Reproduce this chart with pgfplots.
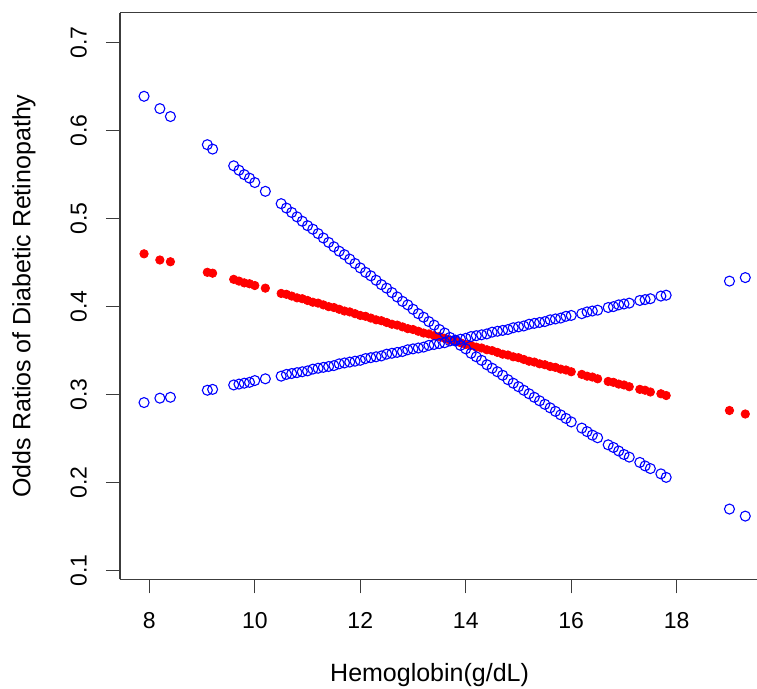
\documentclass[border=0pt]{standalone}
\usepackage{pgfplots}
\pgfplotsset{compat=1.18}
\usepackage{pgfplotstable}
\usepackage{fontspec}
\setmainfont{Liberation Sans}
\definecolor{rblue}{RGB}{0,0,255}
\definecolor{rred}{RGB}{255,0,0}
\definecolor{axgray}{RGB}{60,60,60}

% x = hemoglobin, or = odds ratio estimate, lo / hi = lower / upper curves
\pgfplotstableread{
x     or     lo     hi
7.9   0.460  0.291  0.639
8.2   0.453  0.296  0.625
8.4   0.451  0.297  0.616
9.1   0.439  0.305  0.584
9.2   0.438  0.306  0.579
9.6   0.431  0.311  0.560
9.7   0.429  0.312  0.555
9.8   0.427  0.313  0.550
9.9   0.426  0.314  0.546
10.0  0.424  0.316  0.541
10.2  0.421  0.318  0.531
10.5  0.415  0.321  0.517
10.6  0.414  0.323  0.512
10.7  0.412  0.324  0.507
10.8  0.410  0.325  0.502
10.9  0.409  0.326  0.497
11.0  0.407  0.327  0.492
11.1  0.405  0.329  0.488
11.2  0.404  0.330  0.483
11.3  0.402  0.331  0.478
11.4  0.400  0.332  0.473
11.5  0.399  0.333  0.468
11.6  0.397  0.335  0.463
11.7  0.395  0.336  0.459
11.8  0.394  0.337  0.454
11.9  0.392  0.338  0.449
12.0  0.390  0.339  0.444
12.1  0.389  0.341  0.439
12.2  0.387  0.342  0.435
12.3  0.385  0.343  0.430
12.4  0.384  0.344  0.425
12.5  0.382  0.346  0.421
12.6  0.380  0.347  0.416
12.7  0.379  0.348  0.411
12.8  0.377  0.349  0.406
12.9  0.375  0.351  0.402
13.0  0.374  0.352  0.397
13.1  0.372  0.353  0.392
13.2  0.370  0.354  0.388
13.3  0.369  0.356  0.383
13.4  0.367  0.357  0.379
13.5  0.366  0.358  0.374
13.6  0.364  0.359  0.370
13.7  0.362  0.361  0.365
13.8  0.361  0.362  0.361
13.9  0.359  0.363  0.356
14.0  0.357  0.364  0.352
14.1  0.356  0.366  0.347
14.2  0.354  0.367  0.343
14.3  0.353  0.368  0.339
14.4  0.351  0.369  0.334
14.5  0.350  0.371  0.330
14.6  0.348  0.372  0.326
14.7  0.346  0.373  0.322
14.8  0.345  0.374  0.317
14.9  0.343  0.376  0.313
15.0  0.342  0.377  0.309
15.1  0.340  0.378  0.305
15.2  0.338  0.380  0.301
15.3  0.337  0.381  0.297
15.4  0.335  0.382  0.293
15.5  0.334  0.383  0.289
15.6  0.332  0.385  0.285
15.7  0.331  0.386  0.281
15.8  0.329  0.387  0.277
15.9  0.328  0.389  0.273
16.0  0.326  0.390  0.269
16.2  0.323  0.392  0.262
16.3  0.321  0.394  0.258
16.4  0.320  0.395  0.254
16.5  0.318  0.396  0.251
16.7  0.315  0.399  0.243
16.8  0.314  0.400  0.240
16.9  0.312  0.402  0.236
17.0  0.311  0.403  0.232
17.1  0.309  0.404  0.229
17.3  0.306  0.407  0.223
17.4  0.305  0.408  0.219
17.5  0.303  0.409  0.216
17.7  0.301  0.412  0.210
17.8  0.299  0.413  0.206
19.0  0.282  0.429  0.170
19.3  0.278  0.433  0.162
}\ordata

\begin{document}
\begin{tikzpicture}
\useasboundingbox (-60pt,-54.85pt) rectangle (318.5pt,289.65pt);
\begin{axis}[
  at={(0,0)}, anchor=south west,
  width=318.5pt, height=283.3pt, scale only axis,
  xmin=7.444, xmax=19.522,
  ymin=0.0902, ymax=0.734,
  axis x line*=box, axis y line*=left,
  axis line style={axgray, line width=0.65pt},
  every tick/.style={axgray, line width=0.65pt},
  tick align=outside,
  major tick length=7pt,
  xtick pos=bottom, ytick pos=left,
  xtick={8,10,12,14,16,18},
  xticklabels={8,10,12,14,16,18},
  ytick={0.1,0.2,0.3,0.4,0.5,0.6,0.7},
  yticklabels={0.1,0.2,0.3,0.4,0.5,0.6,0.7},
  tick label style={font=\fontsize{11.5}{13.5}\selectfont, text=black},
  xticklabel style={anchor=center},
  xticklabel shift=13.8pt,
  yticklabel style={rotate=90, anchor=center},
  yticklabel shift=13.6pt,
  label style={font=\fontsize{12.5}{15}\selectfont, text=black},
  xlabel={Hemoglobin(g/dL)},
  xlabel style={at={(axis description cs:0.486,0)}, anchor=base, yshift=-51.2pt},
  ylabel={Odds Ratios of Diabetic Retinopathy},
  ylabel style={at={(axis description cs:-0.1405,0.5)}, anchor=base, rotate=0},
  clip=false,
]
\addplot[only marks, mark=*, mark size=2.1pt, color=rred, mark options={fill=rred, draw=rred}]
  table[x=x, y=or] {\ordata};
\addplot[only marks, mark=o, mark size=2.5pt, color=rblue, mark options={line width=0.55pt}]
  table[x=x, y=lo] {\ordata};
\addplot[only marks, mark=o, mark size=2.5pt, color=rblue, mark options={line width=0.55pt}]
  table[x=x, y=hi] {\ordata};
\end{axis}
\end{tikzpicture}
\end{document}
